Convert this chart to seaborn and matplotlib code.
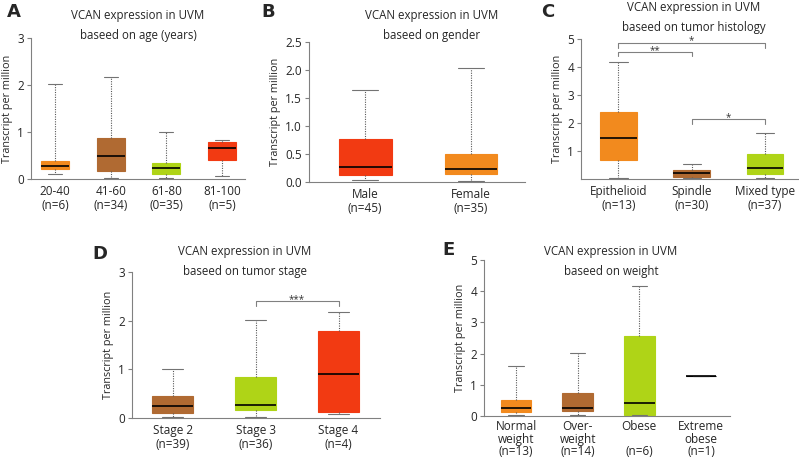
import pandas as pd
import matplotlib
matplotlib.use('Agg')
import matplotlib.pyplot as plt
import seaborn as sns

# colours used in the reference
ORANGE = '#F28A1E'
BROWN = '#B06A32'
GREEN = '#AFD417'
RED = '#F23A12'

# five-number summaries: [min, q1, median, q3, max]
age_labels = ['20-40\n(n=6)', '41-60\n(n=34)', '61-80\n(0=35)', '81-100\n(n=5)']
age_stats = [[0.10, 0.22, 0.27, 0.38, 2.02],
             [0.03, 0.16, 0.48, 0.88, 2.16],
             [0.02, 0.11, 0.23, 0.35, 1.00],
             [0.07, 0.41, 0.66, 0.79, 0.82]]
age_colors = [ORANGE, BROWN, GREEN, RED]

gender_labels = ['Male\n(n=45)', 'Female\n(n=35)']
gender_stats = [[0.03, 0.12, 0.27, 0.77, 1.64],
                [0.01, 0.14, 0.24, 0.50, 2.03]]
gender_colors = [RED, ORANGE]

hist_labels = ['Epithelioid\n(n=13)', 'Spindle\n(n=30)', 'Mixed type\n(n=37)']
hist_stats = [[0.04, 0.68, 1.45, 2.40, 4.18],
              [0.02, 0.08, 0.20, 0.33, 0.54],
              [0.04, 0.18, 0.38, 0.88, 1.63]]
hist_colors = [ORANGE, BROWN, GREEN]

stage_labels = ['Stage 2\n(n=39)', 'Stage 3\n(n=36)', 'Stage 4\n(n=4)']
stage_stats = [[0.03, 0.11, 0.24, 0.45, 1.00],
               [0.03, 0.16, 0.27, 0.84, 2.02],
               [0.08, 0.13, 0.90, 1.78, 2.17]]
stage_colors = [BROWN, GREEN, RED]

weight_labels = ['Normal\nweight\n(n=13)', 'Over-\nweight\n(n=14)', 'Obese\n\n(n=6)', 'Extreme\nobese\n(n=1)']
weight_stats = [[0.03, 0.14, 0.25, 0.51, 1.60],
                [0.04, 0.15, 0.26, 0.73, 2.02],
                [0.02, 0.02, 0.42, 2.57, 4.17],
                [1.27]]
weight_colors = [ORANGE, BROWN, GREEN, 'black']

W, H = 799, 459
sns.set_style('white')
plt.rcParams['font.family'] = ['Open Sans', 'DejaVu Sans']

fig = plt.figure(figsize=(W / 100, H / 100), dpi=100)


def px(x, y):
    return x / W, 1 - y / H


def panel(rect, labels, stats, colors, ylim, yticks, xlim, fmt='{:g}', ls=1.1, xpad=4):
    l, r, t, b = rect
    ax = fig.add_axes([l / W, 1 - b / H, (r - l) / W, (b - t) / H])
    # five points per group -> seaborn's quartiles land exactly on q1/median/q3
    rows = [(lab, v) for lab, s in zip(labels, stats) for v in s]
    df = pd.DataFrame(rows, columns=['group', 'value'])
    sns.boxplot(data=df, x='group', y='value', hue='group', order=labels,
                hue_order=labels, palette=colors, saturation=1, whis=(0, 100),
                width=0.5, legend=False, ax=ax, linewidth=0.8,
                whiskerprops=dict(linestyle=(0, (1, 1.2)), color='0.35', linewidth=0.8),
                capprops=dict(color='0.45', linewidth=0.8),
                medianprops=dict(color='black', linewidth=1.2))
    for p in ax.patches:
        p.set_edgecolor(p.get_facecolor())
    ax.set_ylim(*ylim)
    ax.set_xlim(*xlim)
    ax.set_yticks(yticks)
    ax.set_yticklabels([fmt.format(v) for v in yticks], fontsize=8.5)
    ax.set_xticks(range(len(labels)))
    ax.set_xticklabels(labels, fontsize=8.5, linespacing=ls)
    ax.set_xlabel('')
    ax.set_ylabel('Transcript per million', fontsize=7.8, labelpad=3)
    for s in ['top', 'right']:
        ax.spines[s].set_visible(False)
    for s in ['left', 'bottom']:
        ax.spines[s].set_color('0.5')
        ax.spines[s].set_linewidth(0.8)
    ax.tick_params(axis='y', length=3, width=0.8, color='0.5', pad=2, left=True)
    ax.tick_params(axis='x', length=0, pad=xpad)
    return ax


def bracket(ax, x0, x1, y, drop, text):
    ax.plot([x0, x0, x1, x1], [y - drop, y, y, y - drop], color='0.5', lw=0.8,
            clip_on=False)
    ax.annotate(text, ((x0 + x1) / 2, y), xytext=(0, -2.5), textcoords='offset points',
                ha='center', va='bottom', fontsize=7, color='0.2')


def titles(x, y1, y2, sub):
    fig.text(*px(x, y1), 'VCAN expression in UVM', ha='center', va='center', fontsize=8.3)
    fig.text(*px(x, y2), sub, ha='center', va='center', fontsize=8.3)


axA = panel((31, 245, 38, 179), age_labels, age_stats, age_colors,
            (0, 3), [0, 1, 2, 3], (-0.43, 3.41))
axB = panel((309, 525, 42, 182), gender_labels, gender_stats, gender_colors,
            (0, 2.5), [0, 0.5, 1.0, 1.5, 2.0, 2.5], (-0.53, 1.51), fmt='{:.1f}')
axC = panel((581, 798, 39, 179), hist_labels, hist_stats, hist_colors,
            (0, 5), [1, 2, 3, 4, 5], (-0.51, 2.45))
axD = panel((132, 380, 272, 418), stage_labels, stage_stats, stage_colors,
            (0, 3), [0, 1, 2, 3], (-0.49, 2.5))
axE = panel((484, 730, 260, 416), weight_labels, weight_stats, weight_colors,
            (0, 5), [0, 1, 2, 3, 4, 5], (-0.52, 3.47), ls=0.95, xpad=3)

bracket(axC, 0, 2, 4.87, 0.2, '*')
bracket(axC, 0, 1, 4.52, 0.13, '**')
bracket(axC, 1, 2, 2.13, 0.17, '*')
bracket(axD, 1, 2, 2.40, 0.10, '***')

titles(138, 15, 35, 'baseed on age (years)')
titles(432, 15, 35, 'baseed on gender')
titles(694, 8, 28, 'baseed on tumor histology')
titles(245, 252, 271, 'baseed on tumor stage')
titles(611, 252, 272, 'baseed on weight')

for letter, (x, y) in zip('ABCDE', [(14, 12), (268, 12), (548, 12), (100, 254), (448, 250)]):
    fig.text(*px(x, y), letter, ha='center', va='center', fontsize=13,
             fontweight='bold', family=['DejaVu Sans'])

fig.savefig('out.png', dpi=100)
